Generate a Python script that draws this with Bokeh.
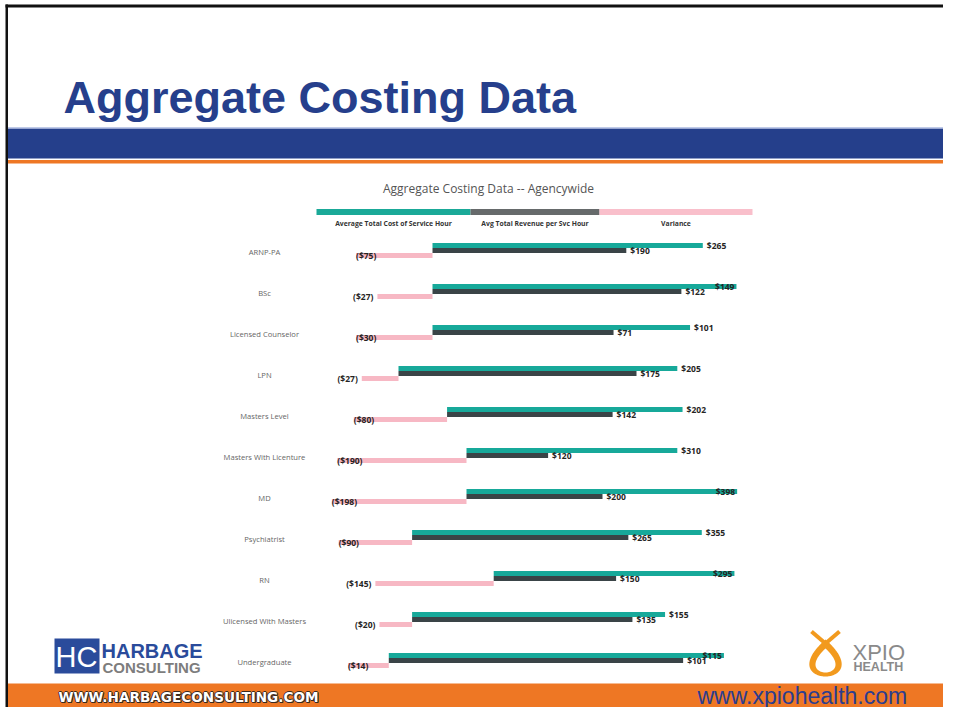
import numpy as np
from bokeh.plotting import figure
from bokeh.models import Range1d, ColumnDataSource
from bokeh.embed import file_html
from bokeh.resources import INLINE
from bokeh.core.properties import value

# ---------------- data ----------------
categories = ["ARNP-PA", "BSc", "Licensed Counselor", "LPN", "Masters Level",
              "Masters With Licenture", "MD", "Psychiatrist", "RN",
              "Ulicensed With Masters", "Undergraduate"]
avg_cost = [265, 149, 101, 205, 202, 310, 398, 355, 295, 155, 115]
avg_revenue = [190, 122, 71, 175, 142, 120, 200, 265, 150, 135, 101]
variance = [-75, -27, -30, -27, -80, -190, -198, -90, -145, -20, -14]
series_names = ["Average Total Cost of Service Hour",
                "Avg Total Revenue per Svc Hour", "Variance"]
chart_title = "Aggregate Costing Data -- Agencywide"
slide_title = "Aggregate Costing Data"
footer_left = "WWW.HARBAGECONSULTING.COM"
footer_right = "www.xpiohealth.com"

# ---------------- style ----------------
TEAL, DARK, PINK = "#17A99A", "#3A4447", "#F7B8C4"
LEGEND_COLORS = ["#1AA998", "#666A6B", "#F9BFCB"]
BLUE, ORANGE = "#263F8C", "#EE7724"
LABEL_FONT = value("Open Sans")

W, H = 943, 707
AX_L, AX_R = 330, 738          # pixel span of every small-multiple axis
ROW0, ROW_H = 250, 41          # pixel centre of first row, row pitch
BAR_OFF, BAR_H = 0.122, 0.122

p = figure(width=W, height=H, output_backend="svg", toolbar_location=None,
           title=None, min_border=0, x_axis_location=None, y_axis_location=None,
           x_range=Range1d(0, 1),
           y_range=Range1d((H - ROW0) / ROW_H, (0 - ROW0) / ROW_H))
p.grid.visible = False
p.outline_line_color = None
p.background_fill_color = "white"
p.border_fill_color = "white"

xr = {"px": Range1d(0, W)}
yr = {"px": Range1d(H, 0)}


def nice_step(span, target=5):
    raw = span / target
    k = np.floor(np.log10(raw))
    cands = [m * 10 ** k for m in (1, 2, 5, 10)]
    return min(cands, key=lambda c: abs(np.log(c / raw)))


rows = []
for i, cat in enumerate(categories):
    c, r, v = avg_cost[i], avg_revenue[i], variance[i]
    lo_v, hi_v = min(v, r, c, 0), max(v, r, c, 0)
    step = nice_step(hi_v - lo_v)
    lo = np.floor(lo_v / step) * step
    hi = np.ceil(hi_v / step) * step
    span = hi - lo
    ppu = (AX_R - AX_L) / span
    start = lo - AX_L * span / (AX_R - AX_L)
    end = hi + (W - AX_R) * span / (AX_R - AX_L)
    name = f"row{i}"
    xr[name] = Range1d(start, end)
    rows.append((i, name, c, r, v, lo, hi, ppu))

p.extra_x_ranges = xr
p.extra_y_ranges = yr


def fmt(x):
    return f"(${abs(x)})" if x < 0 else f"${x}"


for i, name, c, r, v, lo, hi, ppu in rows:
    src = ColumnDataSource(dict(
        y=[i - BAR_OFF, i, i + BAR_OFF],
        left=[0, 0, v], right=[c, r, 0],
        color=[TEAL, DARK, PINK]))
    p.hbar(y="y", left="left", right="right", height=BAR_H, color="color",
           line_color=None, source=src, x_range_name=name)

    teal_out = (hi - c) * ppu >= 25
    pink_out = (v - lo) * ppu >= 29
    lsrc = ColumnDataSource(dict(
        x=[c, r, v], y=[i - BAR_OFF, i, i + BAR_OFF],
        text=[fmt(c), fmt(r), fmt(v)],
        align=["left" if teal_out else "right", "left",
               "right" if pink_out else "left"],
        xo=[4 if teal_out else -2, 4, -4 if pink_out else 0]))
    p.text(x="x", y="y", text="text", text_align="align", x_offset="xo",
           text_baseline="middle", text_font=LABEL_FONT, text_font_size="8.5px",
           text_font_style="bold", text_color="#252423", source=lsrc,
           x_range_name=name)

# category labels
p.text(x=[264] * len(categories), y=list(range(len(categories))), text=categories,
       y_offset=1, text_align="center", text_baseline="middle",
       text_font=LABEL_FONT, text_font_size="7.6px", text_color="#666666",
       x_range_name="px")

# ---------------- slide decoration (reference-pixel coordinates) ----------------
K = dict(x_range_name="px", y_range_name="px")

# slide border (left and top)
p.quad(left=[5, 5], right=[7.5, W], top=[4, 4], bottom=[H, 7],
       color="#111111", line_color=None, **K)

# title
p.text(x=[63], y=[97], text=[slide_title], text_font=value("Liberation Sans"),
       text_font_size="45px", text_font_style="bold", text_color=BLUE,
       text_baseline="middle", **K)

# band
p.quad(left=[7.5] * 3, right=[W] * 3, top=[126.7, 128.3, 159.5],
       bottom=[128.3, 158, 163], color=["#AAB9E0", "#253F8B", ORANGE],
       line_color=None, **K)

# chart title
p.text(x=[488], y=[188], text=[chart_title], text_font=LABEL_FONT,
       text_font_size="12px", text_color="#555555", text_align="center",
       text_baseline="middle", **K)

# legend
edges = [316, 470, 599, 752]
p.quad(left=edges[:-1], right=edges[1:], top=[208.5] * 3, bottom=[214.5] * 3,
       color=LEGEND_COLORS, line_color=None, **K)
p.text(x=[(a + b) / 2 for a, b in zip(edges[:-1], edges[1:])], y=[222.5] * 3,
       text=series_names, text_align="center", text_baseline="middle",
       text_font=LABEL_FONT, text_font_size="6.8px", text_font_style="bold",
       text_color="#333333", **K)

# footer
p.quad(left=[7.5], right=[W], top=[683], bottom=[H],
       color=ORANGE, line_color=None, **K)
for dx, dy in [(-1, 0), (1, 0), (0, -1), (0, 1), (1, 1)]:
    p.text(x=[58], y=[696], text=[footer_left], x_offset=dx, y_offset=dy,
           text_font=value("DejaVu Sans"), text_font_size="13.6px",
           text_font_style="bold", text_color="#3a2a20", text_baseline="middle",
           **K)
p.text(x=[58], y=[696], text=[footer_left], text_font=value("DejaVu Sans"),
       text_font_size="13.6px", text_font_style="bold", text_color="white",
       text_baseline="middle", **K)
p.text(x=[697], y=[695], text=[footer_right], text_font=value("Liberation Sans"),
       text_font_size="23px", text_color="#2B3D8F", text_baseline="middle",
       **K)

# Harbage Consulting logo
p.quad(left=[54], right=[99], top=[638], bottom=[673], color="#2A4B9B",
       line_color=None, **K)
p.text(x=[76], y=[656], text=["HC"], text_font=value("Liberation Sans"),
       text_font_size="29px", text_color="white", text_align="center",
       text_baseline="middle", **K)
p.text(x=[101], y=[650.5], text=["HARBAGE"], text_font=value("Liberation Sans"),
       text_font_size="20px", text_font_style="bold", text_color="#2A4B9B",
       text_baseline="middle", **K)
p.text(x=[102], y=[666.5], text=["CONSULTING"], text_font=value("Liberation Sans"),
       text_font_size="15px", text_font_style="bold", text_color="#7d7d7d",
       text_baseline="middle", **K)

# XPIO Health logo
t = np.linspace(0, 2 * np.pi, 160)
td_x = np.cos(t)
td_y = np.sin(t) * np.sin(t / 2)
cx = 825
outer_x = cx + 21 * td_y
outer_y = 639 + (1 - td_x) / 2 * 37
inner_x = cx + 13 * td_y
inner_y = 648 + (1 - td_x) / 2 * 24
p.patch(x=list(outer_x), y=list(outer_y), color="#F29A1E", line_color=None, **K)
p.patch(x=list(inner_x), y=list(inner_y), color="white", line_color=None, **K)
p.segment(x0=[cx, cx], y0=[643, 643], x1=[811, 839], y1=[631, 631],
          line_color="#F29A1E", line_width=4, **K)
p.text(x=[852], y=[651.5], text=["XPIO"], text_font=value("Liberation Sans"),
       text_font_size="22px", text_color="#8a8a8a", text_baseline="middle",
       **K)
p.text(x=[853], y=[666], text=["HEALTH"], text_font=value("Liberation Sans"),
       text_font_size="12.5px", text_font_style="bold", text_color="#8a8a8a",
       text_baseline="middle", **K)

open("out.html", "w").write(file_html(p, INLINE))
